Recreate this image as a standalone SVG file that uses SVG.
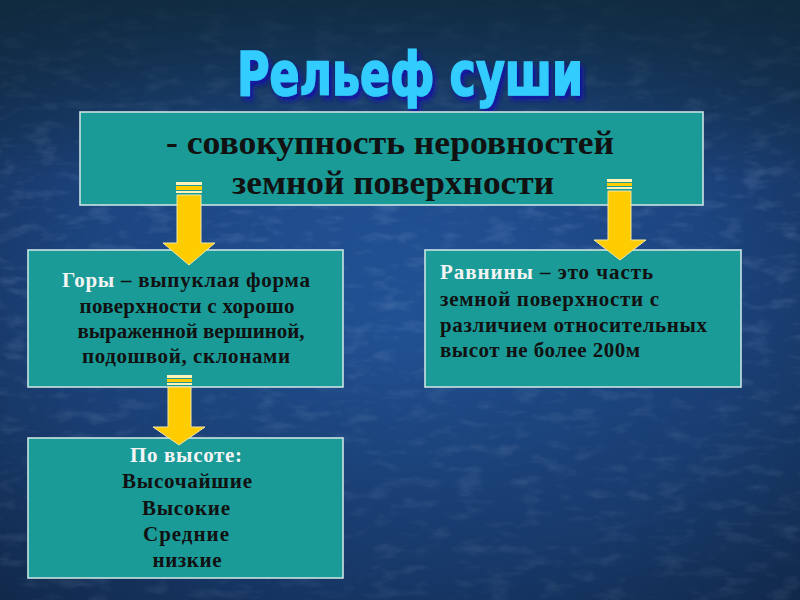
<svg xmlns="http://www.w3.org/2000/svg" width="800" height="600" viewBox="0 0 800 600">
<defs>
<radialGradient id="bg" cx="0.5" cy="0.55" r="0.75">
<stop offset="0" stop-color="#2457a0"/>
<stop offset="0.55" stop-color="#1d4683"/>
<stop offset="1" stop-color="#122a4c"/>
</radialGradient>
<linearGradient id="topshade" x1="0" y1="0" x2="0" y2="1">
<stop offset="0" stop-color="#0f2a3c" stop-opacity="0.85"/>
<stop offset="0.3" stop-color="#0f2a3c" stop-opacity="0"/>
<stop offset="1" stop-color="#0a1a30" stop-opacity="0.35"/>
</linearGradient>
<filter id="tex" x="0" y="0" width="100%" height="100%">
<feTurbulence type="fractalNoise" baseFrequency="0.035 0.09" numOctaves="3" seed="4"/>
<feColorMatrix type="matrix" values="0 0 0 0 0.55  0 0 0 0 0.7  0 0 0 0 0.95  0 0 0 1.1 -0.55"/>
</filter>
<filter id="shadow" x="-10%" y="-30%" width="120%" height="160%">
<feGaussianBlur in="SourceAlpha" stdDeviation="2.5"/>
<feOffset dx="3" dy="4" result="b"/>
<feFlood flood-color="#1414a8"/>
<feComposite in2="b" operator="in" result="s"/>
<feMerge><feMergeNode in="s"/><feMergeNode in="SourceGraphic"/></feMerge>
</filter>
<style>
.box{fill:#1a9b98;stroke:#c9e3e3;stroke-width:1.6}
.t{font-family:"Liberation Serif","DejaVu Serif",serif;font-weight:bold;fill:#111}
.w{fill:#f4f4f4}
.arrow{fill:#ffcc00;stroke:#f3e7a8;stroke-width:1}
.stripe{fill:#ffcc00}
.stripe2{fill:#fff3b8}
</style>
</defs>
<rect width="800" height="600" fill="url(#bg)"/>
<rect width="800" height="600" filter="url(#tex)" opacity="0.35"/>
<rect width="800" height="600" fill="url(#topshade)"/>

<g id="title">
<text x="410" y="95" text-anchor="middle" font-family="'DejaVu Sans Condensed','DejaVu Sans',sans-serif" font-weight="bold" font-size="60" textLength="346" lengthAdjust="spacingAndGlyphs" fill="#33ccff" stroke="#33ccff" stroke-width="1.5" filter="url(#shadow)">Рельеф суши</text>
</g>

<g id="def">
<rect class="box" x="80" y="112" width="623" height="93"/>
<text class="t" x="390" y="154" text-anchor="middle" font-size="33" textLength="448" lengthAdjust="spacingAndGlyphs">- совокупность неровностей</text>
<text class="t" x="393" y="194" text-anchor="middle" font-size="33" textLength="322" lengthAdjust="spacingAndGlyphs">земной поверхности</text>
</g>

<g id="mountains">
<rect class="box" x="28" y="250" width="315" height="137"/>
<text class="t" x="186" y="287" text-anchor="middle" font-size="21" textLength="248" lengthAdjust="spacing"><tspan class="w">Горы</tspan> – выпуклая форма</text>
<text class="t" x="187" y="313" text-anchor="middle" font-size="21" textLength="215" lengthAdjust="spacing">поверхности с хорошо</text>
<text class="t" x="191" y="338" text-anchor="middle" font-size="21" textLength="227" lengthAdjust="spacing">выраженной вершиной,</text>
<text class="t" x="186" y="363" text-anchor="middle" font-size="21" textLength="208" lengthAdjust="spacing">подошвой, склонами</text>
</g>

<g id="plains">
<rect class="box" x="425" y="250" width="316" height="137"/>
<text class="t" x="440" y="279" font-size="21" textLength="213" lengthAdjust="spacing"><tspan class="w">Равнины</tspan> – это часть</text>
<text class="t" x="440" y="306" font-size="21" textLength="219" lengthAdjust="spacing">земной поверхности с</text>
<text class="t" x="440" y="332" font-size="21" textLength="267" lengthAdjust="spacing">различием относительных</text>
<text class="t" x="440" y="357" font-size="21" textLength="200" lengthAdjust="spacing">высот не более 200м</text>
</g>

<g id="heights">
<rect class="box" x="28" y="438" width="315" height="140"/>
<text class="t w" x="186" y="462" text-anchor="middle" font-size="21" textLength="112" lengthAdjust="spacing">По высоте:</text>
<text class="t" x="187" y="488" text-anchor="middle" font-size="21" textLength="130" lengthAdjust="spacing">Высочайшие</text>
<text class="t" x="186" y="515" text-anchor="middle" font-size="21" textLength="88" lengthAdjust="spacing">Высокие</text>
<text class="t" x="186" y="541" text-anchor="middle" font-size="21" textLength="86" lengthAdjust="spacing">Средние</text>
<text class="t" x="187" y="567" text-anchor="middle" font-size="21" textLength="69" lengthAdjust="spacing">низкие</text>
</g>

<g id="connectors">
<g id="arrow-left">
<rect class="stripe2" x="176" y="182" width="26" height="3"/>
<rect class="stripe" x="176" y="186" width="26" height="4"/>
<rect class="stripe2" x="176" y="191" width="26" height="2"/>
<path class="arrow" d="M177 195 H201 V243 H215 L189 265 L163 243 H177 Z"/>
</g>
<g id="arrow-right">
<rect class="stripe2" x="607" y="179" width="25" height="3"/>
<rect class="stripe" x="607" y="183" width="25" height="3"/>
<rect class="stripe2" x="607" y="187" width="25" height="2"/>
<path class="arrow" d="M608 191 H631 V240 H646 L620 260 L594 240 H608 Z"/>
</g>
<g id="arrow-bottom">
<rect class="stripe2" x="167" y="375" width="25" height="3"/>
<rect class="stripe" x="167" y="379" width="25" height="3"/>
<rect class="stripe2" x="167" y="383" width="25" height="2"/>
<path class="arrow" d="M168 387 H191 V427 H205 L179 445 L153 427 H168 Z"/>
</g>
</g>
</svg>
